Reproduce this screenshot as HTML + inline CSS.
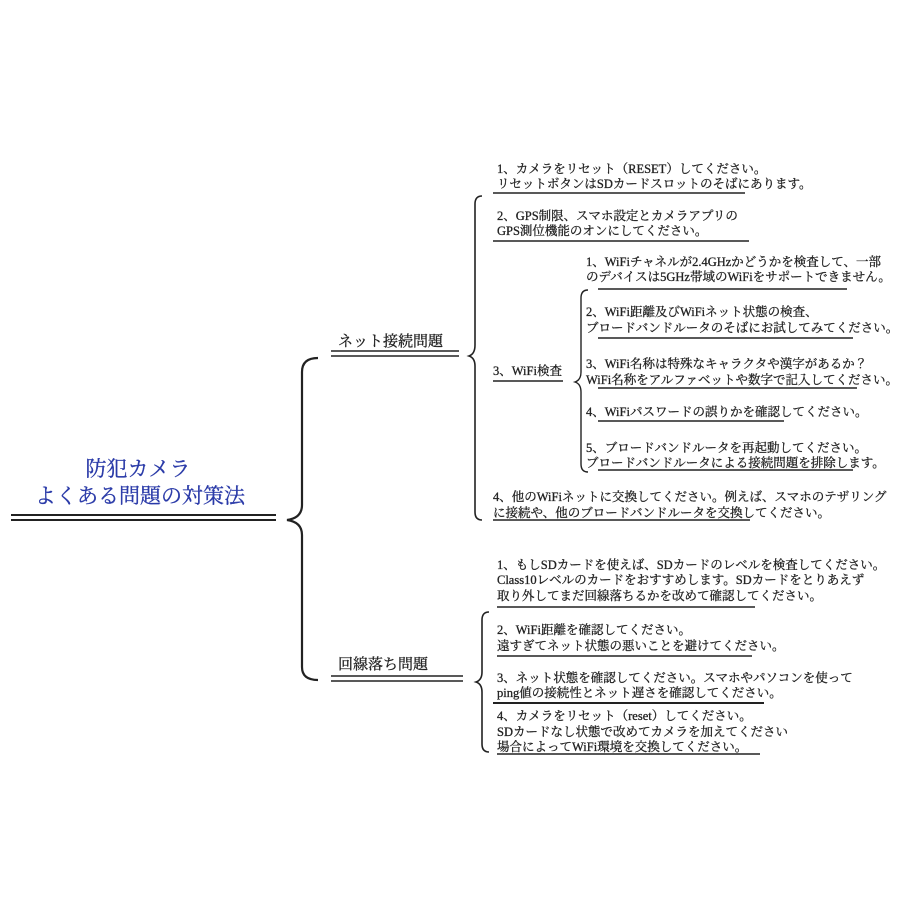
<!DOCTYPE html>
<html><head><meta charset="utf-8"><style>
html,body{margin:0;padding:0;background:#fff;}
svg{display:block;}
text{font-family:"Liberation Serif","Noto Serif CJK JP","Noto Serif CJK SC",serif;fill:#222;font-size:12.5px;stroke:#222;stroke-width:0.3;}
.t{font-size:21px;fill:#2a3aa8;stroke:#2a3aa8;stroke-width:0.3;}
.h{font-size:15px;}
</style></head><body>
<svg width="900" height="900" viewBox="0 0 900 900" xmlns="http://www.w3.org/2000/svg">
<g stroke="#222" fill="none">
<line x1="11" y1="515" x2="276" y2="515" stroke-width="2"/>
<line x1="11" y1="520" x2="276" y2="520" stroke-width="2"/>
<path d="M318,358 Q302,358 302,372 L302,505 Q302,518 287,520 Q302,522 302,535 L302,667 Q302,680 318,680" stroke-width="2.2"/>
<line x1="331" y1="351" x2="459" y2="351" stroke-width="1.6"/>
<line x1="331" y1="356" x2="459" y2="356" stroke-width="1.6"/>
<line x1="331" y1="676" x2="463" y2="676" stroke-width="1.6"/>
<line x1="331" y1="681" x2="463" y2="681" stroke-width="1.6"/>
<path d="M482,196 Q475,196 475,204 L475,345 Q475,354 469,356 Q475,358 475,366 L475,512 Q475,520 482,520" stroke-width="1.6"/>
<line x1="493" y1="193" x2="745" y2="193" stroke-width="1.6"/>
<line x1="493" y1="241" x2="749" y2="241" stroke-width="1.6"/>
<line x1="493" y1="381" x2="563" y2="381" stroke-width="1.6"/>
<line x1="493" y1="520" x2="750" y2="520" stroke-width="1.6"/>
<path d="M588,290 Q581,290 581,298 L581,372 Q581,380 575,382 Q581,384 581,392 L581,464 Q581,472 588,472" stroke-width="1.4"/>
<line x1="598" y1="289" x2="847" y2="289" stroke-width="1.6"/>
<line x1="598" y1="338" x2="853" y2="338" stroke-width="1.6"/>
<line x1="598" y1="388" x2="857" y2="388" stroke-width="1.6"/>
<line x1="598" y1="421" x2="784" y2="421" stroke-width="1.6"/>
<line x1="598" y1="470" x2="853" y2="470" stroke-width="1.6"/>
<path d="M489,612 Q482,612 482,620 L482,672 Q482,680 476,682 Q482,684 482,692 L482,744 Q482,752 489,752" stroke-width="1.6"/>
<line x1="497" y1="607" x2="755" y2="607" stroke-width="1.6"/>
<line x1="497" y1="656" x2="752" y2="656" stroke-width="1.6"/>
<line x1="493" y1="703" x2="764" y2="703" stroke-width="2"/>
<line x1="497" y1="754" x2="760" y2="754" stroke-width="1.6"/>
</g>
<text class="t" x="138" y="476" text-anchor="middle">防犯カメラ</text>
<text class="t" x="140" y="503" text-anchor="middle">よくある問題の対策法</text>
<text class="h" x="338" y="346">ネット接続問題</text>
<text class="h" x="338" y="669">回線落ち問題</text>

<text x="497" y="173">1、カメラをリセット（RESET）してください。</text>
<text x="497" y="188">リセットボタンはSDカードスロットのそばにあります。</text>
<text x="497" y="220">2、GPS制限、スマホ設定とカメラアプリの</text>
<text x="497" y="235">GPS測位機能のオンにしてください。</text>
<text x="493" y="375">3、WiFi検査</text>
<text x="586" y="266">1、WiFiチャネルが2.4GHzかどうかを検査して、一部</text>
<text x="586" y="281">のデバイスは5GHz帯域のWiFiをサポートできません。</text>
<text x="586" y="316">2、WiFi距離及びWiFiネット状態の検査、</text>
<text x="586" y="332">ブロードバンドルータのそばにお試してみてください。</text>
<text x="586" y="368">3、WiFi名称は特殊なキャラクタや漢字があるか？</text>
<text x="586" y="384">WiFi名称をアルファベットや数字で記入してください。</text>
<text x="586" y="416">4、WiFiパスワードの誤りかを確認してください。</text>
<text x="586" y="452">5、ブロードバンドルータを再起動してください。</text>
<text x="586" y="467">ブロードバンドルータによる接続問題を排除します。</text>
<text x="493" y="501">4、他のWiFiネットに交換してください。例えば、スマホのテザリング</text>
<text x="493" y="517">に接続や、他のブロードバンドルータを交換してください。</text>

<text x="497" y="569">1、もしSDカードを使えば、SDカードのレベルを検査してください。</text>
<text x="497" y="584">Class10レベルのカードをおすすめします。SDカードをとりあえず</text>
<text x="497" y="600">取り外してまだ回線落ちるかを改めて確認してください。</text>
<text x="497" y="634">2、WiFi距離を確認してください。</text>
<text x="497" y="650">遠すぎてネット状態の悪いことを避けてください。</text>
<text x="497" y="682">3、ネット状態を確認してください。スマホやパソコンを使って</text>
<text x="497" y="697">ping値の接続性とネット遅さを確認してください。</text>
<text x="497" y="720">4、カメラをリセット（reset）してください。</text>
<text x="497" y="736">SDカードなし状態で改めてカメラを加えてください</text>
<text x="497" y="751">場合によってWiFi環境を交換してください。</text>
</svg>
</body></html>
